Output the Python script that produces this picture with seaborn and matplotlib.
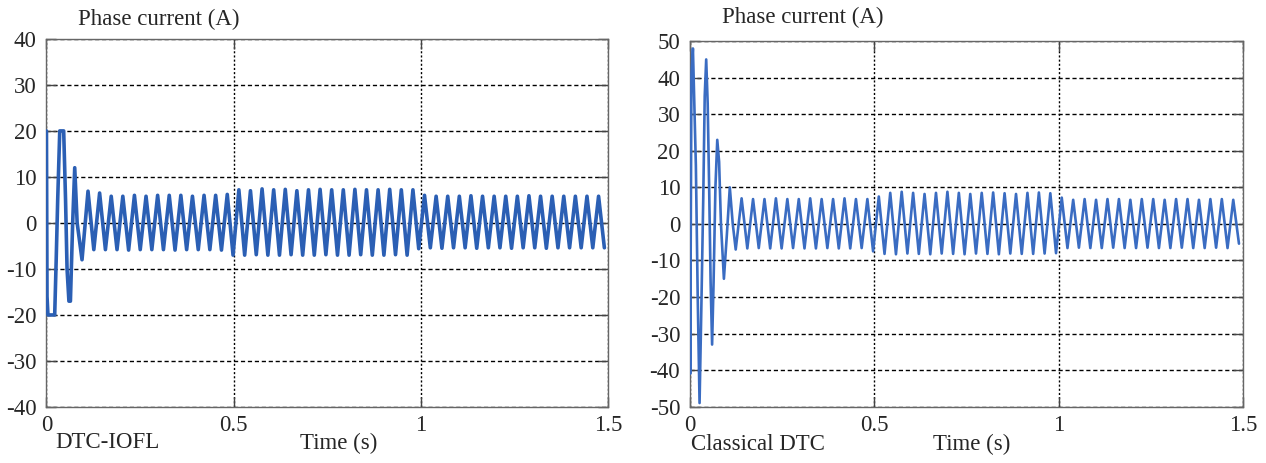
import numpy as np
import pandas as pd
import seaborn as sns
import matplotlib.pyplot as plt

# ---- data ----
# start-up transient, turning points (time s, current A)
iofl_start_t = [0.0, 0.0015, 0.004, 0.022, 0.026, 0.030, 0.0355, 0.046, 0.051, 0.055, 0.060, 0.064, 0.070, 0.0755, 0.082, 0.095]
iofl_start_i = [20, -16, -20, -20, -8, 5, 20, 20, 5, -10, -17, -17, 0, 12, 0, -8]

# steady state: one peak and one trough per cycle
iofl_first_peak = 0.111
iofl_peaks = [6.9, 6.5, 5.8, 5.8, 6.0, 5.8, 6.0, 6.0, 6.0, 5.8, 6.0, 6.0, 6.2,
              7.2, 7.0, 7.4, 7.2, 7.3, 7.0, 7.2, 7.3, 7.2, 7.2, 7.3, 7.2, 7.2, 7.3, 7.2, 7.2,
              6.0, 5.8, 5.8, 5.8, 5.9, 5.8, 5.8, 5.8, 5.8, 5.9, 5.8, 5.8, 5.8, 5.8, 5.8, 5.8, 5.8]
iofl_troughs = [-5.8, -5.8, -5.8, -5.9, -5.8, -5.8, -5.8, -5.9, -5.8, -5.8, -5.8, -5.9, -7.0,
                -7.0, -6.9, -7.0, -7.0, -6.9, -7.0, -7.0, -6.9, -7.0, -7.0, -6.9, -7.0, -7.0, -6.9, -7.0,
                -5.6, -5.4, -5.5, -5.4, -5.4, -5.5, -5.4, -5.4, -5.5, -5.4, -5.4, -5.5, -5.4, -5.4, -5.4, -5.4, -5.4]

dtc_start_t = [0.0, 0.0005, 0.004, 0.008, 0.011, 0.016, 0.021, 0.026, 0.031, 0.036, 0.040, 0.044, 0.048,
               0.052, 0.056, 0.060, 0.064, 0.069, 0.074, 0.079, 0.084, 0.092, 0.100, 0.108, 0.116, 0.124]
dtc_start_i = [9, -41, 41, 48, 36, 16, -20, -49, -22, 7, 35, 45, 33,
               10, -16, -33, -16, 10, 23, 17, 0, -15, -3, 10, 0, -7]

dtc_first_peak = 0.140
dtc_peaks = [7.0, 6.8, 6.8, 7.0, 6.8, 6.8, 7.0, 6.8, 6.8, 7.0, 6.8, 6.8,
             7.5, 8.5, 8.8, 8.5, 8.2, 8.5, 8.8, 8.5, 8.2, 8.5, 8.6, 8.4, 8.2, 8.5, 8.6, 8.4,
             7.2, 6.6, 6.8, 6.6, 6.8, 6.8, 6.6, 6.8, 6.8, 6.6, 6.8, 6.8, 6.6, 6.8, 6.8, 6.6, 6.6]
dtc_troughs = [-6.7, -6.6, -6.7, -6.7, -6.6, -6.7, -6.7, -6.6, -6.7, -6.7, -6.6, -7.5,
               -8.2, -8.3, -8.1, -8.2, -8.3, -8.1, -8.2, -8.3, -8.1, -8.2, -8.3, -8.1, -8.2, -8.2, -8.1, -8.0,
               -6.6, -6.5, -6.6, -6.6, -6.5, -6.6, -6.6, -6.5, -6.6, -6.6, -6.5, -6.6, -6.6, -6.5, -6.6, -5.4]

period = 0.031


def build_wave(start_t, start_i, first_peak, peaks, troughs):
    t = list(start_t)
    i = list(start_i)
    for k, (p, q) in enumerate(zip(peaks, troughs)):
        t += [first_peak + k * period, first_peak + (k + 0.5) * period]
        i += [p, q]
    return pd.DataFrame({'t': t, 'i': i})


iofl = build_wave(iofl_start_t, iofl_start_i, iofl_first_peak, iofl_peaks, iofl_troughs)
dtc = build_wave(dtc_start_t, dtc_start_i, dtc_first_peak, dtc_peaks, dtc_troughs)

sns.set_style('white')
plt.rcParams['font.family'] = ['Liberation Serif', 'DejaVu Serif']
plt.rcParams['axes.unicode_minus'] = False

fs = 16.5
fig = plt.figure(figsize=(12.66, 4.63), dpi=100)
ax1 = fig.add_axes([0.0367, 0.121, 0.4435, 0.795])
ax2 = fig.add_axes([0.545, 0.1216, 0.437, 0.7895])

panels = [
    (ax1, iofl, '#2b5fb4', 2.6, 40),
    (ax2, dtc, '#3a6cc2', 1.9, 50),
]
for ax, df, col, lw, lim in panels:
    sns.lineplot(data=df, x='t', y='i', ax=ax, sort=False, estimator=None,
                 color=col, lw=lw, zorder=3)
    ax.set_xlim(0, 1.5)
    ax.set_ylim(-lim, lim)
    ax.set_xticks([0, 0.5, 1, 1.5])
    ax.set_xticklabels(['0', '0.5', '1', '1.5'])
    ax.set_yticks(np.arange(-lim, lim + 1, 10))
    ax.set_yticklabels([str(v) for v in np.arange(-lim, lim + 1, 10)])
    ax.grid(True, axis='y', color='k', linestyle=(0, (3, 2)), lw=1.0)
    ax.grid(True, axis='x', color='k', linestyle=(0, (1.5, 1.5)), lw=1.0)
    ax.tick_params(direction='in', length=7, width=1, color='#444',
                   labelsize=fs, top=True, right=True, left=True, bottom=True)
    ax.tick_params(axis='y', pad=7)
    ax.tick_params(axis='x', pad=6)
    for s in ax.spines.values():
        s.set_color('#666')
        s.set_linewidth(1.0)
    ax.set_xlabel('')
    ax.set_ylabel('')

fig.text(0.0616, 0.958, 'Phase current (A)', fontsize=fs, ha='left', va='center')
fig.text(0.570, 0.962, 'Phase current (A)', fontsize=fs, ha='left', va='center')
fig.text(0.0434, 0.045, 'DTC-IOFL', fontsize=fs, ha='left', va='center')
fig.text(0.237, 0.043, 'Time (s)', fontsize=fs, ha='left', va='center')
fig.text(0.546, 0.041, 'Classical DTC', fontsize=fs, ha='left', va='center')
fig.text(0.737, 0.039, 'Time (s)', fontsize=fs, ha='left', va='center')

plt.savefig('out.png', dpi=100)
